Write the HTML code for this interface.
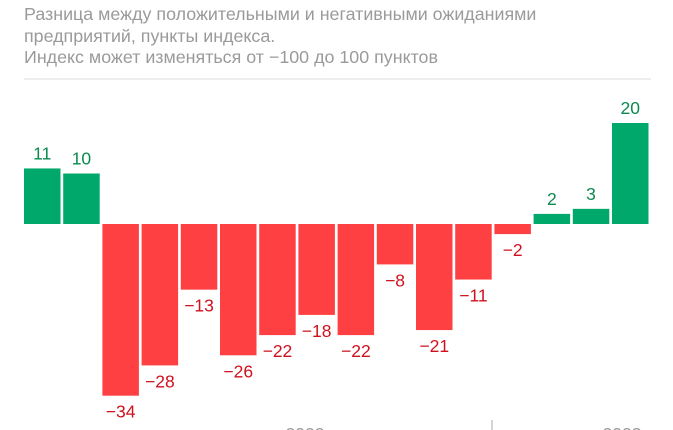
<!DOCTYPE html>
<html><head><meta charset="utf-8"><style>
body{margin:0;width:673px;height:430px;overflow:hidden;background:#fff;font-family:"Liberation Sans",sans-serif}
.t{position:absolute;left:24px;top:4px;color:#9a9a9a;font-size:17.5px;line-height:21.5px;transform:scaleX(1.02);transform-origin:0 0}
</style></head><body>
<div class="t">Разница между положительными и негативными ожиданиями<br>предприятий, пункты индекса.<br>Индекс может изменяться от −100 до 100 пунктов</div>
<svg width="673" height="430" style="position:absolute;left:0;top:0" font-family="Liberation Sans, sans-serif" font-size="17.5" text-anchor="middle">
<line x1="24" y1="79" x2="651" y2="79" stroke="#e8e8e8" stroke-width="1.5"/>
<g id="b"></g>
<line x1="492" y1="420" x2="492" y2="430" stroke="#aaa" stroke-width="1"/>
<text x="305" y="440" fill="#999">2022</text>
<text x="622" y="440" fill="#999">2023</text>
</svg>
<script>
var v=[11,10,-34,-28,-13,-26,-22,-18,-22,-8,-21,-11,-2,2,3,20],g=document.getElementById('b'),s='';
v.forEach(function(d,i){var x=24+i*39.2,w=36.5,h=d*5.05,z=224;
if(d>0){s+='<rect x="'+x+'" y="'+(z-h)+'" width="'+w+'" height="'+h+'" fill="#00a96b"/><text x="'+(x+w/2)+'" y="'+(z-h-9)+'" fill="#0a8a4f">'+d+'</text>';}
else{s+='<rect x="'+x+'" y="'+z+'" width="'+w+'" height="'+(-h)+'" fill="#ff4042"/><text x="'+(x+w/2)+'" y="'+(z-h+22)+'" fill="#d0101c">−'+(-d)+'</text>';}});
g.innerHTML=s;
</script>
</body></html>
